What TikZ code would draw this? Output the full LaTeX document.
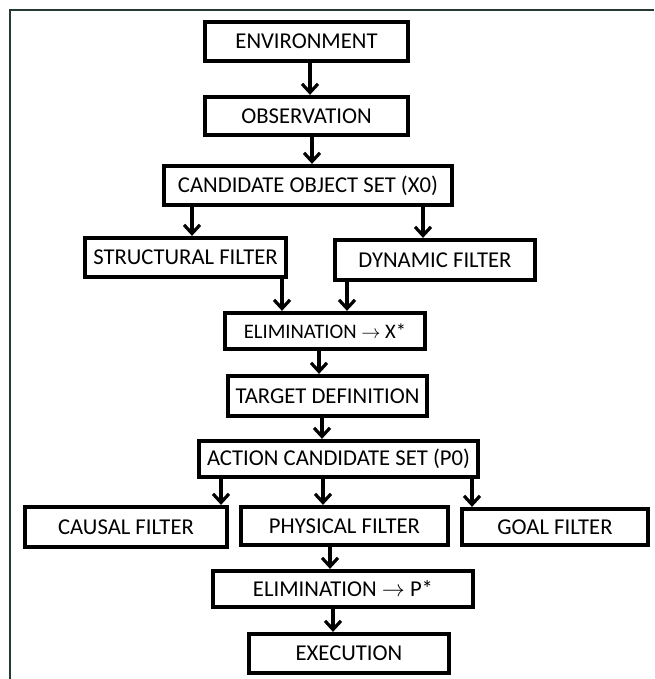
\documentclass[tikz,border=0pt]{standalone}
\usepackage{fontspec}
\setmainfont{Carlito}
\usetikzlibrary{arrows.meta}
\definecolor{framegreen}{RGB}{38,58,52}
\begin{document}
\begin{tikzpicture}[x=0.75pt,y=-0.75pt,
	box/.style={draw, line width=3.2pt, inner sep=0pt, font=\fontsize{17}{19}\selectfont},
	sz/.style 2 args={minimum width=#1*0.75pt, minimum height=#2*0.75pt},
	arr/.style={line width=2.4pt, -{Straight Barb[length=6.5pt,width=12pt]}},
	frame/.style={line width=1.5pt, draw=framegreen}]
		\useasboundingbox (0,0) rectangle (654,679);
		\draw[frame] (10,679) -- (10,10) -- (654,10);
		% object branch
		\node[box, sz={203}{39}] (env) at (306.5,41.5) {ENVIRONMENT};
		\node[box, sz={203}{38}] (obs) at (306.5,116) {OBSERVATION};
		\node[box, sz={288}{39}] (cand) at (308,185.5) {CANDIDATE OBJECT SET (X0)};
		\node[box, sz={201}{39}] (struct) at (185.5,257.5) {STRUCTURAL FILTER};
		\node[box, sz={200}{40}] (dyn) at (435,260) {DYNAMIC FILTER};
		\node[box, sz={200}{36}, font=\fontsize{15.5}{17}\selectfont] (elimx) at (325,331) {ELIMINATION $\rightarrow$ X*};
		\node[box, sz={199}{40}] (target) at (327.5,396) {TARGET DEFINITION};
		% action branch
		\node[box, sz={279}{36}] (action) at (338.5,459) {ACTION CANDIDATE SET (P0)};
		\node[box, sz={202}{40}] (causal) at (126,527) {CAUSAL FILTER};
		\node[box, sz={207}{38}] (phys) at (344.5,526) {PHYSICAL FILTER};
		\node[box, sz={186}{36}] (goal) at (555,527) {GOAL FILTER};
		\node[box, sz={260}{36}] (elimp) at (343,589) {ELIMINATION $\rightarrow$ P*};
		\node[box, sz={200}{39}] (exec) at (349,653.5) {EXECUTION};
		\draw[arr] (310,0 |- env.south) -- (310,0 |- obs.north);
		\draw[arr] (312,0 |- obs.south) -- (312,0 |- cand.north);
		\draw[arr] (192,0 |- cand.south) -- (192,0 |- struct.north);
		\draw[arr] (423,0 |- cand.south) -- (423,0 |- dyn.north);
		\draw[arr] (282,0 |- struct.south) -- (282,0 |- elimx.north);
		\draw[arr] (347,0 |- dyn.south) -- (347,0 |- elimx.north);
		\draw[arr] (319,0 |- elimx.south) -- (319,0 |- target.north);
		\draw[arr] (322,0 |- target.south) -- (322,0 |- action.north);
		\draw[arr] (221,0 |- action.south) -- (221,0 |- causal.north);
		\draw[arr] (323,0 |- action.south) -- (323,0 |- phys.north);
		\draw[arr] (472,0 |- action.south) -- (472,0 |- goal.north);
		\draw[arr] (330,0 |- phys.south) -- (330,0 |- elimp.north);
		\draw[arr] (333,0 |- elimp.south) -- (333,0 |- exec.north);
	\end{tikzpicture}
\end{document}
